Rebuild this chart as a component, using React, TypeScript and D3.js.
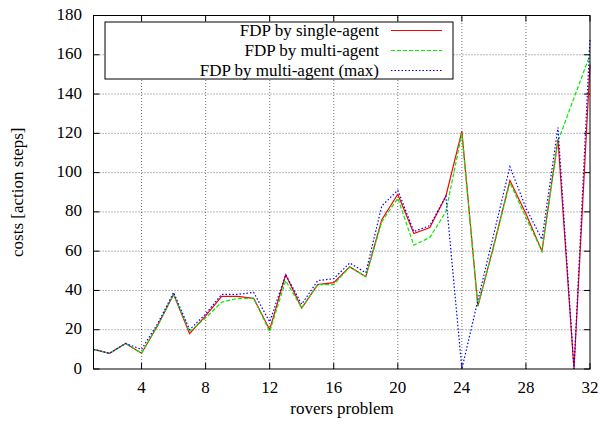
import React from "react";
import * as d3 from "d3";

// problem numbers 1..32
const problems = [
  1, 2, 3, 4, 5, 6, 7, 8, 9, 10, 11, 12, 13, 14, 15, 16,
  17, 18, 19, 20, 21, 22, 23, 24, 25, 26, 27, 28, 29, 30, 31, 32,
];
const singleAgent = [
  10, 8, 13, 8, 22, 38, 18, 27, 37, 37, 36, 20, 48, 31, 43, 44,
  52, 47, 76, 89, 69, 72, 88, 121, 32, 63, 96, 79, 60, 117, 0, 155,
];
const multiAgent = [
  10, 8, 13, 8, 22, 38, 19, 26, 34, 36, 36, 19, 45, 31, 43, 43,
  52, 47, 75, 87, 63, 67, 80, 120, 32, 63, 95, 77, 60, 116, 138, 160,
];
const multiAgentMax = [
  10, 8, 13, 10, 23, 39, 20, 28, 38, 38, 39, 24, 48, 33, 45, 46,
  54, 49, 83, 91, 70, 73, 88, 0, 35, 69, 103, 82, 66, 123, 0, 168,
];
const xTicks = [4, 8, 12, 16, 20, 24, 28, 32];
const yTicks = [0, 20, 40, 60, 80, 100, 120, 140, 160, 180];

const seriesNames = [
  "FDP by single-agent",
  "FDP by multi-agent",
  "FDP by multi-agent (max)",
];

const W = 600;
const H = 427;
const margin = { left: 93.5, right: 10, top: 15.5, bottom: 58 };
const font = "Liberation Serif, Times New Roman, serif";
const fs = 17;

const App = () => {
  const x = d3.scaleLinear().domain([1, 32]).range([margin.left, W - margin.right]);
  const y = d3.scaleLinear().domain([0, 180]).range([H - margin.bottom, margin.top]);

  const x0 = x(1);
  const x1 = x(32);
  const y0 = y(0);
  const y1 = y(180);

  const series = [
    { name: seriesNames[0], values: singleAgent, color: "#ff0000", dash: "none" },
    { name: seriesNames[1], values: multiAgent, color: "#00ee00", dash: "4 2" },
    { name: seriesNames[2], values: multiAgentMax, color: "#0000ff", dash: "1.5 2" },
  ];

  const line = (vals: number[]) =>
    d3
      .line<number>()
      .x((_, i) => x(problems[i]))
      .y((d) => y(d))(vals) || "";

  const tick = 6;
  const gridStyle = { stroke: "#000", strokeOpacity: 0.55, strokeDasharray: "1 2", strokeWidth: 1 };
  const textStyle = { fontFamily: font, fontSize: fs };

  // legend box
  const lg = { x: 105, y: 22, w: 348, h: 57 };

  return (
    <svg
      width={W}
      height={H}
      style={{ position: "absolute", left: 0, top: 0, background: "#fff", fontFamily: font }}
    >
      {/* grid */}
      {xTicks.filter((t) => t < 32).map((t) => (
        <line key={"gx" + t} x1={x(t)} x2={x(t)} y1={y0} y2={y1} {...gridStyle} />
      ))}
      {yTicks.filter((t) => t > 0 && t < 180).map((t) => (
        <line key={"gy" + t} x1={x0} x2={x1} y1={y(t)} y2={y(t)} {...gridStyle} />
      ))}

      {/* ticks on all sides */}
      {xTicks.map((t) => (
        <g key={"tx" + t}>
          <line x1={x(t)} x2={x(t)} y1={y0} y2={y0 - tick} stroke="#000" />
          <line x1={x(t)} x2={x(t)} y1={y1} y2={y1 + tick} stroke="#000" />
          <text x={x(t)} y={392.5} textAnchor="middle" style={textStyle}>
            {t}
          </text>
        </g>
      ))}
      {yTicks.map((t) => (
        <g key={"ty" + t}>
          <line x1={x0} x2={x0 + tick} y1={y(t)} y2={y(t)} stroke="#000" />
          <line x1={x1} x2={x1 - tick} y1={y(t)} y2={y(t)} stroke="#000" />
          <text x={82} y={y(t) + 4.5} textAnchor="end" style={textStyle}>
            {t}
          </text>
        </g>
      ))}

      {/* legend */}
      <rect x={lg.x} y={lg.y} width={lg.w} height={lg.h} fill="#fff" stroke="#000" />
      {series.map((s, i) => (
        <g key={"lg" + i}>
          <text x={379} y={35.5 + i * 20} textAnchor="end" style={textStyle}>
            {s.name}
          </text>
          <line
            x1={391}
            x2={442}
            y1={30.5 + i * 20}
            y2={30.5 + i * 20}
            stroke={s.color}
            strokeWidth={1.2}
            strokeDasharray={s.dash}
          />
        </g>
      ))}

      {/* series */}
      {series.map((s, i) => (
        <path
          key={"s" + i}
          d={line(s.values)}
          fill="none"
          stroke={s.color}
          strokeWidth={1.2}
          strokeDasharray={s.dash}
        />
      ))}

      {/* frame */}
      <rect x={x0} y={y1} width={x1 - x0} height={y0 - y1} fill="none" stroke="#000" />

      {/* axis titles */}
      <text x={342} y={413.5} textAnchor="middle" style={textStyle}>
        rovers problem
      </text>
      <text
        transform={`translate(22.5, ${(y0 + y1) / 2}) rotate(-90)`}
        textAnchor="middle"
        style={textStyle}
      >
        costs [action steps]
      </text>
    </svg>
  );
};

export default App;
